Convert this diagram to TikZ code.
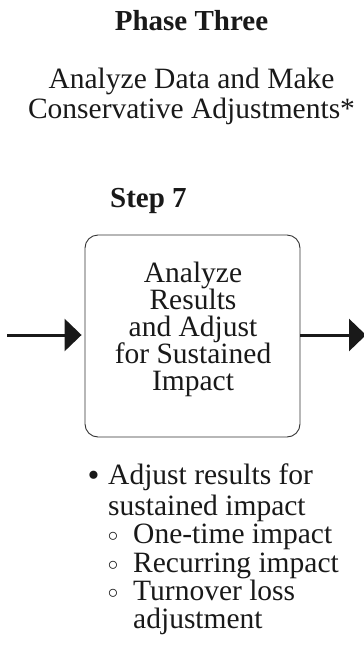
\documentclass[tikz,border=0pt]{standalone}
\usepackage{fontspec}
\setmainfont{Liberation Serif}
\usetikzlibrary{arrows.meta}
\tikzset{
  txt/.style={font=\fontsize{29.5}{30}\selectfont, inner sep=0pt, text=black!90, text depth=0.16em},
  hdr/.style={inner sep=0pt, text=black!90, font=\fontsize{29}{30}\selectfont\bfseries},
  bul/.style={inner sep=0pt, text=black!90},
  stepbox/.style={draw=black!80, line width=0.9pt, rounded corners=13pt},
  flow/.style={line width=3pt, draw=black!90, -{Triangle[length=17pt,width=32pt]}},
}
\begin{document}
\begin{tikzpicture}[x=1pt,y=-1pt]
\useasboundingbox (0,0) rectangle (364,648);
\node[hdr, anchor=base] (phase) at (191.5,30) {Phase Three};
\node[txt, anchor=base] (t1) at (191.5,88) {Analyze Data and Make};
\node[txt, anchor=base] (t2) at (191.5,118) {Conservative Adjustments*};
\node[hdr, anchor=base west] (step) at (110,207) {Step 7};
\node[stepbox, minimum width=215pt, minimum height=202pt] (box) at (192.5,336) {};
\node[txt, anchor=base] (l1) at (193,282) {Analyze};
\node[txt, anchor=base] (l2) at (193,309) {Results};
\node[txt, anchor=base] (l3) at (193,336) {and Adjust};
\node[txt, anchor=base] (l4) at (193,363) {for Sustained};
\node[txt, anchor=base] (l5) at (193,390) {Impact};
\coordinate (in) at (7,335);
\coordinate (out) at (366,335);
\draw[flow, shorten >=3pt] (in) -- (box.west |- in);
\draw[flow] (box.east |- out) -- (out);
\node[bul, font=\fontsize{34}{30}\selectfont, anchor=base] (b0) at (93.5,486) {•};
\node[txt, anchor=base west] (i1) at (108,484) {Adjust results for};
\node[txt, anchor=base west] (i1b) at (108,515) {sustained impact};
\node[bul, font=\fontsize{20}{20}\selectfont, anchor=base] (c1) at (113,541) {$\circ$};
\node[txt, anchor=base west] (s1) at (133,543) {One-time impact};
\node[bul, font=\fontsize{20}{20}\selectfont, anchor=base] (c2) at (113,570) {$\circ$};
\node[txt, anchor=base west] (s2) at (133,572) {Recurring impact};
\node[bul, font=\fontsize{20}{20}\selectfont, anchor=base] (c3) at (113,598) {$\circ$};
\node[txt, anchor=base west] (s3) at (133,600) {Turnover loss};
\node[txt, anchor=base west] (s3b) at (133,628) {adjustment};
\end{tikzpicture}
\end{document}
